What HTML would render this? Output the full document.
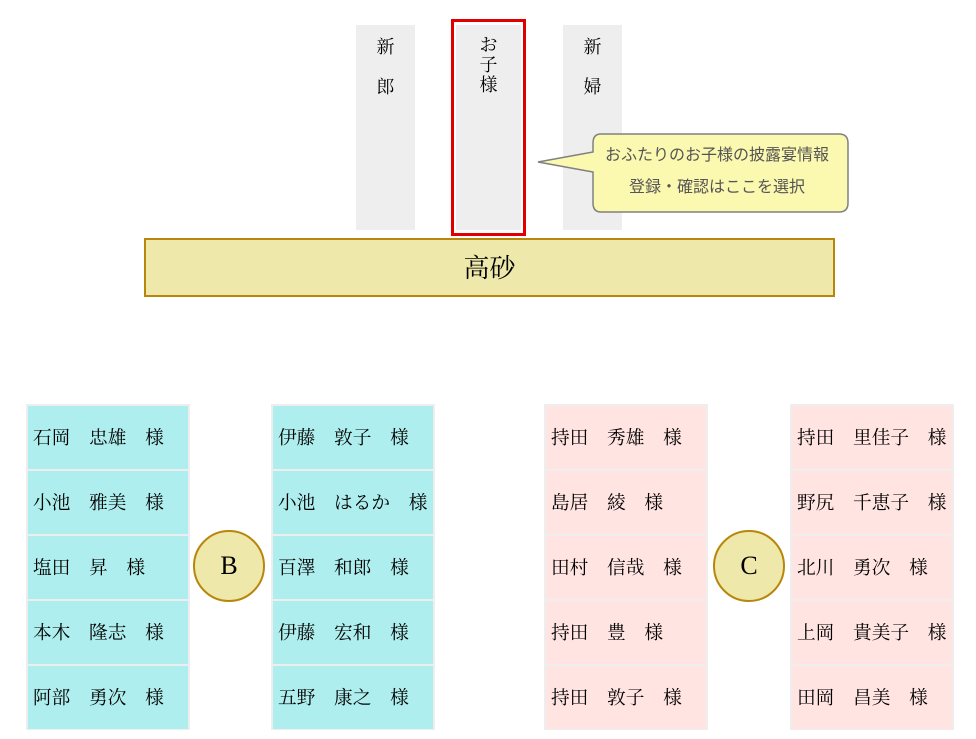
<!DOCTYPE html>
<html><head><meta charset="utf-8"><style>
body{margin:0;width:976px;height:739px;background:#fff;position:relative;overflow:hidden;font-family:"Liberation Serif","Noto Serif CJK SC","Noto Sans CJK JP",serif;}
.a{position:absolute;box-sizing:border-box;}
.col{background:#eeeeee;text-align:center;font-size:18px;line-height:20px;color:#000;}
.tbl{position:absolute;top:404px;width:164px;height:326px;background:#eeeeee;}
.tbl div{position:absolute;left:2px;width:160px;height:63px;font-size:18.7px;line-height:66px;padding-left:5px;box-sizing:border-box;white-space:pre;color:#000;}
.cy div{background:#afeeee;}
.pk div{background:#ffe4e1;}
.circ{position:absolute;width:72px;height:72px;border-radius:50%;background:#eee8aa;border:2px solid #b8860b;box-sizing:border-box;text-align:center;line-height:68px;font-size:26px;}
</style></head><body>
<div class="a col" style="left:356px;top:25px;width:59px;height:205px;padding-top:12px;">新<br><br>郎</div>
<div class="a" style="left:451px;top:19px;width:75px;height:217px;border:3px solid #e00000;"></div>
<div class="a col" style="left:456px;top:25px;width:65px;height:205px;padding-top:10px;line-height:20px;">お<br>子<br>様</div>
<div class="a col" style="left:563px;top:25px;width:59px;height:205px;padding-top:12px;">新<br><br>婦</div>
<svg class="a" style="left:0;top:0" width="976" height="739">
<path d="M601,134 H839 Q848,134 848,143 V203 Q848,212 839,212 H601 Q593,212 593,203 V172 L538,162 L593,152 V143 Q593,134 601,134 Z" fill="#fbf8b0" stroke="#808080" stroke-width="1.5"/>
<text x="717" y="160" font-size="16" fill="#555" text-anchor="middle" font-family="Liberation Sans,Noto Sans CJK JP,sans-serif">おふたりのお子様の披露宴情報</text>
<text x="717" y="192" font-size="16" fill="#555" text-anchor="middle" font-family="Liberation Sans,Noto Sans CJK JP,sans-serif">登録・確認はここを選択</text>
</svg>
<div class="a" style="left:144px;top:238px;width:691px;height:59px;background:#eee8aa;border:2px solid #b8860b;text-align:center;line-height:57px;font-size:26px;">高砂</div>

<div class="tbl cy" style="left:26px">
<div style="top:2px">石岡　忠雄　様</div><div style="top:67px">小池　雅美　様</div><div style="top:132px">塩田　昇　様</div><div style="top:197px">本木　隆志　様</div><div style="top:262px">阿部　勇次　様</div></div>
<div class="circ" style="left:193px;top:530px">B</div>
<div class="tbl cy" style="left:271px">
<div style="top:2px">伊藤　敦子　様</div><div style="top:67px">小池　はるか　様</div><div style="top:132px">百澤　和郎　様</div><div style="top:197px">伊藤　宏和　様</div><div style="top:262px">五野　康之　様</div></div>

<div class="tbl pk" style="left:544px">
<div style="top:2px">持田　秀雄　様</div><div style="top:67px">島居　綾　様</div><div style="top:132px">田村　信哉　様</div><div style="top:197px">持田　豊　様</div><div style="top:262px">持田　敦子　様</div></div>
<div class="circ" style="left:713px;top:530px">C</div>
<div class="tbl pk" style="left:790px">
<div style="top:2px">持田　里佳子　様</div><div style="top:67px">野尻　千恵子　様</div><div style="top:132px">北川　勇次　様</div><div style="top:197px">上岡　貴美子　様</div><div style="top:262px">田岡　昌美　様</div></div>
</body></html>
